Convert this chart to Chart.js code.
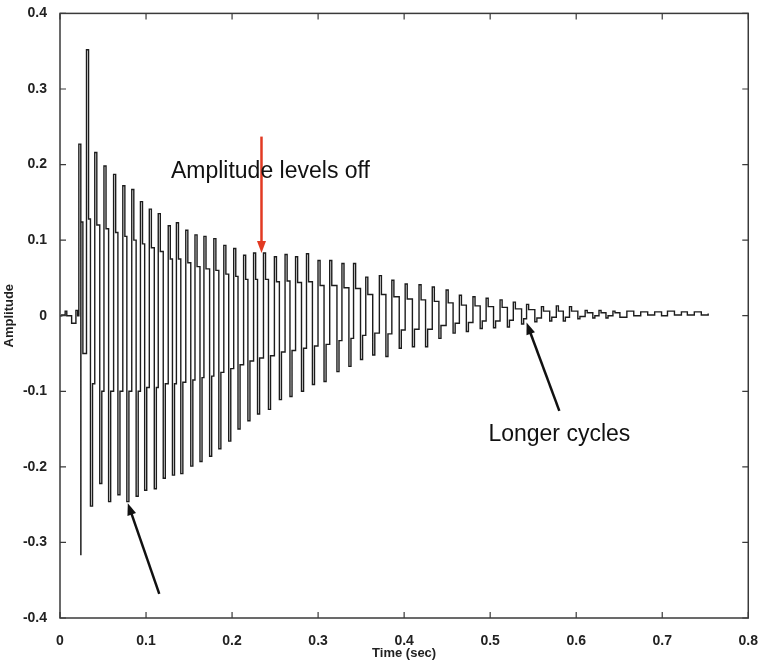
<!DOCTYPE html>
<html>
<head>
<meta charset="utf-8">
<script src="https://cdn.jsdelivr.net/npm/chart.js@4"></script>
<style>
  html, body { margin: 0; padding: 0; background: #fff; }
  canvas { display: block; }
</style>
</head>
<body>
<canvas id="decayChart" width="765" height="665"></canvas>
<script>
// quiet start before the hit
const leadTimes = [0, 0.002, 0.006, 0.0079, 0.0135, 0.0185, 0.0205];
const leadValues = [0, 0.001, 0.006, 0.0, -0.01, 0.007, 0.0];

// upper extremes of each cycle (seconds, amplitude)
const peakTimes = [
  0.0219, 0.0308, 0.0404, 0.0511, 0.0623, 0.0730, 0.0834, 0.0935, 0.1038, 0.1142,
  0.1258, 0.1353, 0.1462, 0.1569, 0.1673, 0.1788, 0.1904, 0.2019, 0.2134, 0.2250,
  0.2365, 0.2492, 0.2616, 0.2738, 0.2865, 0.2999, 0.3135, 0.3277, 0.3412, 0.3554,
  0.3712, 0.3857, 0.4012, 0.4173, 0.4327, 0.4488, 0.4642, 0.4800, 0.4953, 0.5115,
  0.5269, 0.5423, 0.5596, 0.5769, 0.5922, 0.6104, 0.6265, 0.6427,
];
const peakValues = [
  0.227, 0.352, 0.216, 0.198, 0.187, 0.172, 0.167, 0.151, 0.141, 0.135,
  0.119, 0.123, 0.113, 0.107, 0.105, 0.102, 0.093, 0.089, 0.080, 0.083,
  0.083, 0.078, 0.081, 0.078, 0.082, 0.073, 0.073, 0.069, 0.069, 0.051,
  0.053, 0.047, 0.042, 0.041, 0.038, 0.034, 0.027, 0.025, 0.023, 0.021,
  0.018, 0.015, 0.012, 0.013, 0.012, 0.007, 0.007, 0.006,
];
// level the held sample drops to right after each peak
const upperShelf = [
  0.124, 0.128, 0.120, 0.115, 0.110, 0.105, 0.100, 0.095, 0.090, 0.085,
  0.075, 0.075, 0.070, 0.065, 0.062, 0.060, 0.055, 0.052, 0.048, 0.048,
  0.048, 0.045, 0.046, 0.044, 0.045, 0.040, 0.040, 0.037, 0.036, 0.028,
  0.028, 0.025, 0.022, 0.021, 0.019, 0.017, 0.014, 0.013, 0.012, 0.011,
  0.009, 0.008, 0.006, 0.006, 0.006, 0.004, 0.004, 0.004,
];

// lower extremes of each cycle
const troughTimes = [
  0.0242, 0.0354, 0.0462, 0.0565, 0.0673, 0.0777, 0.0885, 0.0984, 0.1096, 0.1200,
  0.1307, 0.1404, 0.1520, 0.1627, 0.1739, 0.1846, 0.1961, 0.2069, 0.2184, 0.2296,
  0.2423, 0.2550, 0.2673, 0.2807, 0.2934, 0.3069, 0.3219, 0.3358, 0.3493, 0.3635,
  0.3788, 0.3943, 0.4096, 0.4249, 0.4404, 0.4569, 0.4723, 0.4884, 0.5039, 0.5200,
  0.5365, 0.5519, 0.5692, 0.5850, 0.6019, 0.6193, 0.6346,
];
const troughValues = [
  -0.316, -0.252, -0.222, -0.246, -0.237, -0.246, -0.239, -0.231, -0.229, -0.215,
  -0.211, -0.209, -0.199, -0.193, -0.186, -0.176, -0.166, -0.150, -0.139, -0.130,
  -0.124, -0.111, -0.107, -0.100, -0.091, -0.087, -0.074, -0.067, -0.058, -0.052,
  -0.054, -0.043, -0.041, -0.041, -0.030, -0.023, -0.021, -0.017, -0.016, -0.015,
  -0.011, -0.008, -0.007, -0.007, -0.004, -0.003, -0.003,
];
// level the held sample rises to right after each trough
const lowerShelf = [
  -0.050, -0.090, -0.100, -0.100, -0.100, -0.100, -0.100, -0.095, -0.095, -0.090,
  -0.090, -0.088, -0.085, -0.082, -0.080, -0.075, -0.070, -0.065, -0.060, -0.056,
  -0.053, -0.048, -0.046, -0.043, -0.040, -0.038, -0.033, -0.030, -0.026, -0.023,
  -0.024, -0.019, -0.018, -0.018, -0.013, -0.010, -0.009, -0.007, -0.007, -0.006,
  -0.004, -0.003, -0.002, -0.002, -0.001, 0.000, 0.000,
];

// ringing tail
const tailTimes = [0.6508, 0.6589, 0.6669, 0.6750, 0.6831, 0.6912, 0.6992, 0.7061,
  0.7142, 0.7223, 0.7292, 0.7373, 0.7454, 0.7534];
const tailValues = [-0.002, 0.006, 0.000, 0.005, 0.001, 0.005, 0.000, 0.006,
  0.001, 0.005, 0.001, 0.005, 0.001, 0.003];

const xTicks = [0, 0.1, 0.2, 0.3, 0.4, 0.5, 0.6, 0.7, 0.8];
const yTicks = [-0.4, -0.3, -0.2, -0.1, 0, 0.1, 0.2, 0.3, 0.4];

// one held sample lasts about this long (s)
const holdTime = 0.0024;

const points = [];
leadTimes.forEach((t, i) => points.push({ x: t, y: leadValues[i] }));
peakTimes.forEach((t, i) => {
  points.push({ x: t, y: peakValues[i] });
  points.push({ x: t + holdTime, y: upperShelf[i] });
});
troughTimes.forEach((t, i) => {
  points.push({ x: t, y: troughValues[i] });
  points.push({ x: t + holdTime, y: lowerShelf[i] });
});
tailTimes.forEach((t, i) => points.push({ x: t, y: tailValues[i] }));
points.sort((a, b) => a.x - b.x);

// notes placed in data coordinates
const notes = [
  { text: "Amplitude levels off", x: 0.2446, y: 0.191 },
  { text: "Longer cycles", x: 0.5804, y: -0.157 },
];
const arrows = [
  { from: [0.2342, 0.237], to: [0.2342, 0.083], color: "#e23a22" },
  { from: [0.5804, -0.126], to: [0.5423, -0.009], color: "#111" },
  { from: [0.1154, -0.368], to: [0.0788, -0.248], color: "#111" },
];

const fmt = (v) => (Math.abs(v) < 1e-9 ? "0" : v.toFixed(1));
const tickFont = { family: "'Liberation Sans', Arial, sans-serif", size: 14, weight: "bold" };

const frame = {
  id: "frame",
  afterDatasetsDraw(chart) {
    const { ctx, chartArea: a, scales } = chart;
    ctx.save();
    ctx.strokeStyle = "#3a3a3a";
    ctx.lineWidth = 1.5;
    ctx.strokeRect(a.left, a.top, a.right - a.left, a.bottom - a.top);
    ctx.lineWidth = 1.2;
    ctx.beginPath();
    xTicks.forEach((v) => {
      const px = scales.x.getPixelForValue(v);
      ctx.moveTo(px, a.bottom);
      ctx.lineTo(px, a.bottom - 6);
      ctx.moveTo(px, a.top);
      ctx.lineTo(px, a.top + 6);
    });
    yTicks.forEach((v) => {
      const py = scales.y.getPixelForValue(v);
      ctx.moveTo(a.left, py);
      ctx.lineTo(a.left + 6, py);
      ctx.moveTo(a.right, py);
      ctx.lineTo(a.right - 6, py);
    });
    ctx.stroke();

    // arrows
    arrows.forEach((ar) => {
      const x1 = scales.x.getPixelForValue(ar.from[0]);
      const y1 = scales.y.getPixelForValue(ar.from[1]);
      const x2 = scales.x.getPixelForValue(ar.to[0]);
      const y2 = scales.y.getPixelForValue(ar.to[1]);
      const ang = Math.atan2(y2 - y1, x2 - x1);
      const head = 12;
      ctx.strokeStyle = ar.color;
      ctx.fillStyle = ar.color;
      ctx.lineWidth = 2.5;
      ctx.beginPath();
      ctx.moveTo(x1, y1);
      ctx.lineTo(x2 - Math.cos(ang) * head * 0.8, y2 - Math.sin(ang) * head * 0.8);
      ctx.stroke();
      ctx.beginPath();
      ctx.moveTo(x2, y2);
      ctx.lineTo(x2 - head * Math.cos(ang) + 4.5 * Math.sin(ang), y2 - head * Math.sin(ang) - 4.5 * Math.cos(ang));
      ctx.lineTo(x2 - head * Math.cos(ang) - 4.5 * Math.sin(ang), y2 - head * Math.sin(ang) + 4.5 * Math.cos(ang));
      ctx.closePath();
      ctx.fill();
    });

    ctx.fillStyle = "#111";
    ctx.font = "23px 'Liberation Sans', Arial, sans-serif";
    ctx.textAlign = "center";
    ctx.textBaseline = "middle";
    notes.forEach((n) => {
      ctx.fillText(n.text, scales.x.getPixelForValue(n.x), scales.y.getPixelForValue(n.y));
    });
    ctx.restore();
  },
};

new Chart(document.getElementById("decayChart"), {
  type: "line",
  data: {
    datasets: [
      {
        data: points,
        borderColor: "#1c1c1c",
        borderWidth: 1.4,
        pointRadius: 0,
        tension: 0,
        stepped: "before",
        fill: false,
      },
    ],
  },
  options: {
    responsive: false,
    animation: false,
    layout: { padding: { top: 13, right: 11, left: 0, bottom: 0 } },
    plugins: { legend: { display: false }, tooltip: { enabled: false } },
    scales: {
      x: {
        type: "linear",
        min: 0,
        max: 0.8,
        afterFit: (s) => { s.height = 47; },
        afterBuildTicks: (s) => { s.ticks = xTicks.map((v) => ({ value: v })); },
        grid: { display: false },
        border: { display: false },
        ticks: { callback: fmt, font: tickFont, color: "#222", padding: 7, maxRotation: 0 },
        title: { display: true, text: "Time (sec)", font: { ...tickFont, size: 13 }, color: "#222", padding: { top: 0, bottom: 4 } },
      },
      y: {
        type: "linear",
        min: -0.4,
        max: 0.4,
        afterFit: (s) => { s.width = 60; },
        afterBuildTicks: (s) => { s.ticks = yTicks.map((v) => ({ value: v })); },
        grid: { display: false },
        border: { display: false },
        ticks: { callback: fmt, font: tickFont, color: "#222", padding: 5 },
        title: { display: true, text: "Amplitude", font: { ...tickFont, size: 13 }, color: "#222", padding: { top: 2, bottom: 0 } },
      },
    },
  },
  plugins: [frame],
});
</script>
</body>
</html>
